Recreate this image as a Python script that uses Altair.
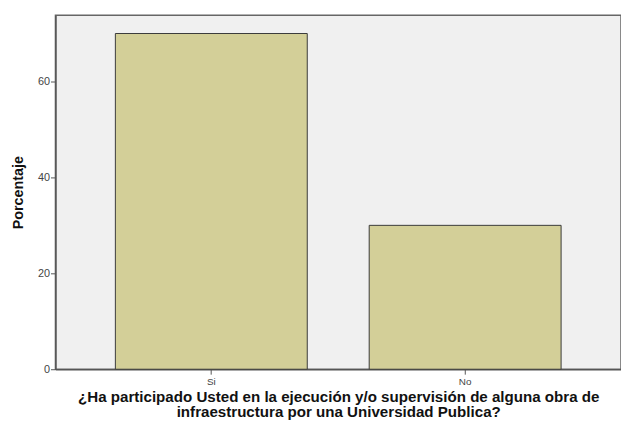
import altair as alt
import pandas as pd

categories = ["Si", "No"]
values = [70, 30]
y_ticks = [0, 20, 40, 60]
x_title = ["¿Ha participado Usted en la ejecución y/o supervisión  de alguna obra de",
           "infraestructura por una Universidad Publica?"]
y_title = "Porcentaje"

df = pd.DataFrame({"cat": categories, "val": values})

chart = alt.Chart(df).mark_bar(
    fill="#d3cf98", stroke="#3a3a3a", strokeWidth=1
).encode(
    x=alt.X("cat:N", sort=categories,
            scale=alt.Scale(paddingInner=0.244, paddingOuter=0.236),
            axis=alt.Axis(title=x_title, labelAngle=0, labelFontSize=10,
                          labelColor="#444444", labelFont="Liberation Sans",
                          tickSize=5, tickColor="#555555", labelPadding=2,
                          domainColor="#555555", domainWidth=1.5,
                          titleFont="Liberation Sans", titleFontSize=15.3,
                          titleFontWeight="bold", titleColor="#111111",
                          titleLineHeight=14.5, titlePadding=4)),
    y=alt.Y("val:Q", scale=alt.Scale(domain=[0, 73.8], nice=False),
            axis=alt.Axis(title=y_title, values=y_ticks, grid=False,
                          labelFontSize=11, labelColor="#444444",
                          labelFont="Liberation Sans",
                          tickSize=5, tickColor="#555555", labelPadding=1,
                          domainColor="#555555", domainWidth=1.5,
                          titleFont="Liberation Sans", titleFontSize=14.5,
                          titleFontWeight="bold", titleColor="#111111",
                          titlePadding=12))
).properties(
    width=572, height=358,
    autosize=alt.AutoSizeParams(type="none"),
    padding={"left": 48, "top": 5, "right": 0, "bottom": 50},
).configure(
    background="white",
    view=alt.ViewConfig(fill="#f0f0f0", stroke="#666666", strokeWidth=1.5),
)

chart.save("out.html", embed_options={"renderer": "svg", "actions": False})
